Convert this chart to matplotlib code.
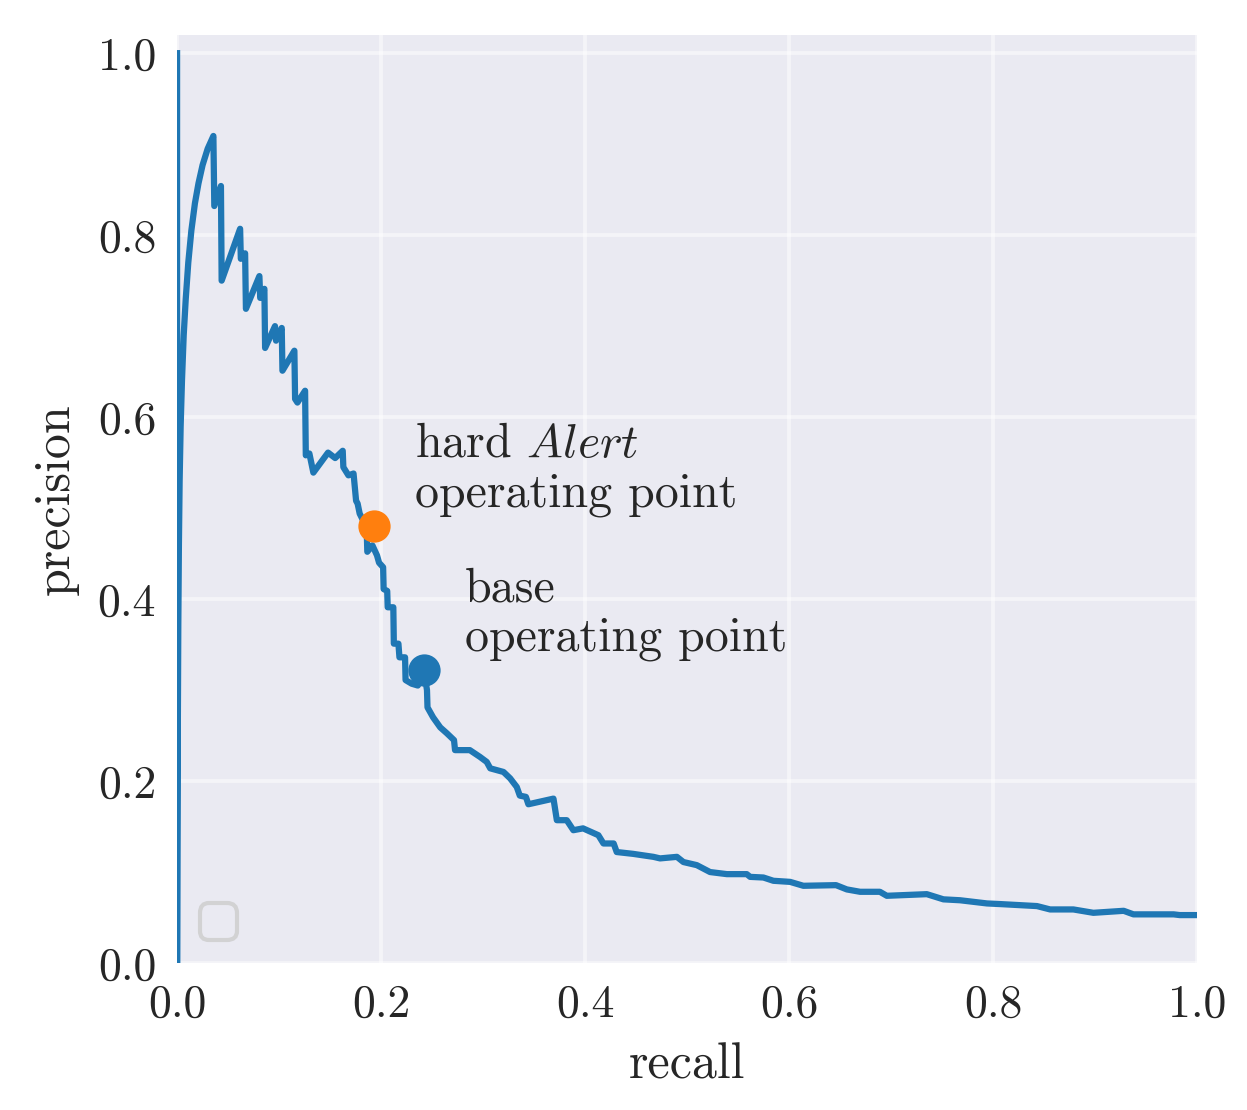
import matplotlib
matplotlib.use("Agg")
import matplotlib.pyplot as plt

# precision-recall curve
recall = [
    0.0, 0.0, 0.0003, 0.0007, 0.0012, 0.0018, 0.0025, 0.0035, 0.0048, 0.0065,
    0.0085, 0.011, 0.014, 0.0175, 0.021, 0.025, 0.030, 0.0356, 0.0365, 0.043,
    0.0437, 0.0618, 0.0625, 0.0667, 0.0675, 0.0807, 0.0815, 0.0856, 0.0863, 0.096,
    0.097, 0.1026, 0.1033, 0.115, 0.1157, 0.118, 0.1255, 0.1262, 0.1297, 0.1336,
    0.148, 0.155, 0.1624, 0.163, 0.168, 0.173, 0.1755, 0.177, 0.179, 0.183,
    0.186, 0.1865, 0.1915, 0.196, 0.198, 0.202, 0.2025, 0.206, 0.2065, 0.212,
    0.2125, 0.217, 0.218, 0.2235, 0.224, 0.230, 0.236, 0.2425, 0.245, 0.2455,
    0.251, 0.258, 0.2645, 0.2715, 0.2725, 0.287, 0.297, 0.3036, 0.307, 0.32,
    0.3265, 0.333, 0.336, 0.342, 0.3444, 0.369, 0.3723, 0.382, 0.3885, 0.398,
    0.413, 0.418, 0.428, 0.431, 0.447, 0.467, 0.4735, 0.49, 0.4964, 0.5095,
    0.5225, 0.539, 0.5585, 0.5618, 0.5748, 0.5846, 0.601, 0.614, 0.646, 0.6566,
    0.6696, 0.689, 0.6958, 0.735, 0.7513, 0.7676, 0.794, 0.8069, 0.843, 0.8559,
    0.8787, 0.8983, 0.928, 0.9376, 0.977, 0.983, 1.0,
]
precision = [
    1.0, 0.0, 0.12, 0.25, 0.37, 0.46, 0.53, 0.59, 0.64, 0.69,
    0.73, 0.77, 0.805, 0.835, 0.857, 0.877, 0.895, 0.909, 0.832, 0.854,
    0.750, 0.807, 0.774, 0.780, 0.719, 0.755, 0.731, 0.741, 0.676, 0.700,
    0.684, 0.698, 0.651, 0.673, 0.620, 0.616, 0.629, 0.558, 0.560, 0.539,
    0.561, 0.555, 0.563, 0.545, 0.536, 0.538, 0.508, 0.505, 0.494, 0.485,
    0.472, 0.452, 0.459, 0.448, 0.440, 0.435, 0.411, 0.409, 0.391, 0.391,
    0.351, 0.351, 0.336, 0.336, 0.311, 0.307, 0.305, 0.318, 0.300, 0.281,
    0.270, 0.259, 0.2525, 0.245, 0.234, 0.234, 0.2265, 0.221, 0.214, 0.210,
    0.203, 0.1935, 0.184, 0.1826, 0.1745, 0.1807, 0.157, 0.157, 0.146, 0.148,
    0.1405, 0.1314, 0.1314, 0.122, 0.120, 0.1167, 0.115, 0.1167, 0.111, 0.1076,
    0.100, 0.0977, 0.0977, 0.0947, 0.094, 0.0904, 0.0892, 0.0849, 0.0856, 0.0809,
    0.0783, 0.0783, 0.0739, 0.0757, 0.070, 0.069, 0.0655, 0.0648, 0.0626, 0.0589,
    0.0589, 0.0552, 0.0574, 0.0535, 0.0535, 0.0527, 0.0527,
]

# operating points
point_labels = ["hard $\\mathit{Alert}$\noperating point", "base\noperating point"]
point_recall = [0.193, 0.2425]
point_precision = [0.48, 0.3216]
point_colors = ["#ff7f0e", "#1f77b4"]

plt.rcParams["font.family"] = ["cmr10", "DejaVu Serif"]
plt.rcParams["mathtext.fontset"] = "cm"
plt.rcParams["axes.formatter.use_mathtext"] = True
plt.rcParams["font.size"] = 11
plt.rcParams["text.color"] = "#262626"
plt.rcParams["axes.labelcolor"] = "#262626"
plt.rcParams["xtick.color"] = "#262626"
plt.rcParams["ytick.color"] = "#262626"

fig = plt.figure(figsize=(1247 / 300, 1110 / 300), dpi=300)
ax = fig.add_axes([0.142, 0.1324, 0.818, 0.8361])
ax.set_facecolor("#eaeaf2")
for s in ax.spines.values():
    s.set_visible(False)
ax.grid(True, color="white", lw=0.9, alpha=0.5)
ax.set_axisbelow(True)
ax.tick_params(length=0, pad=5)

ax.plot(recall, precision, color="#1f77b4", lw=1.5, zorder=2)

for lab, r, p, c in zip(point_labels, point_recall, point_precision, point_colors):
    ax.scatter([r], [p], s=60, color=c, zorder=3, linewidths=0)
    ax.text(r + 0.04, p + 0.062, lab, ha="left", va="center",
            fontsize=11.5, linespacing=1.15)

ax.set_xlim(0, 1)
ax.set_ylim(0, 1.02)
ax.set_xticks([0, 0.2, 0.4, 0.6, 0.8, 1.0])
ax.set_yticks([0, 0.2, 0.4, 0.6, 0.8, 1.0])
ax.set_xticklabels(["0.0", "0.2", "0.4", "0.6", "0.8", "1.0"])
ax.set_yticklabels(["0.0", "0.2", "0.4", "0.6", "0.8", "1.0"])
ax.set_xlabel("recall", fontsize=12, labelpad=4)
ax.set_ylabel("precision", fontsize=12, labelpad=4.5)

ax.legend(handles=[], loc="lower left", facecolor="#eaeaf2", edgecolor="0.8")

fig.savefig("out.png", dpi=300)
